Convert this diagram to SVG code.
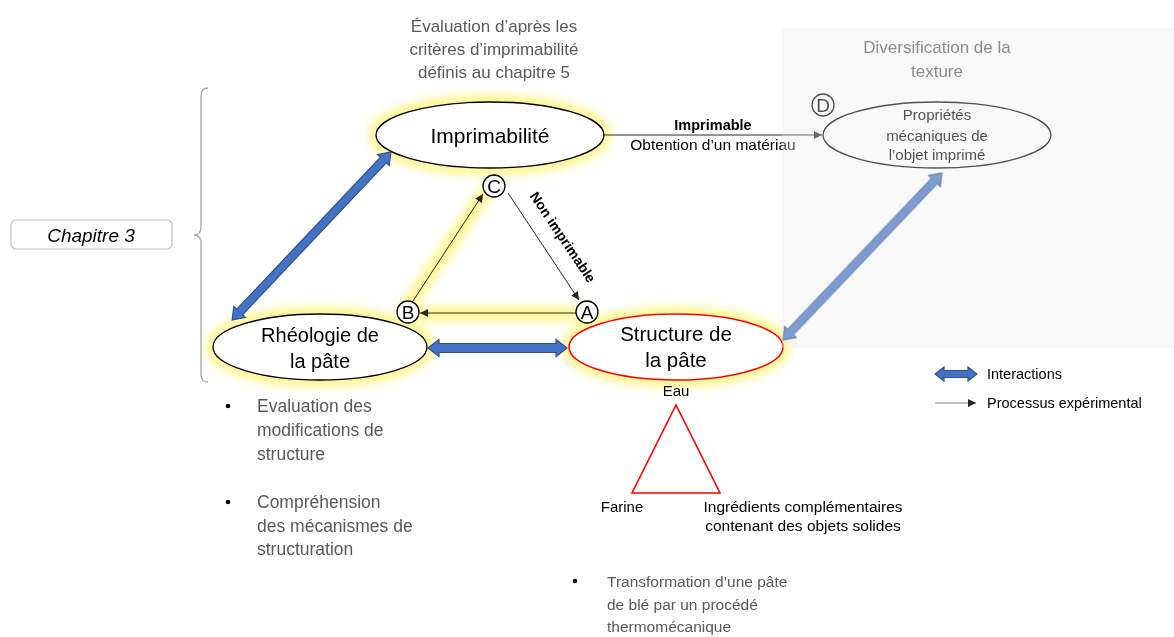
<svg xmlns="http://www.w3.org/2000/svg" width="1174" height="637" viewBox="0 0 1174 637">
<defs>
<filter id="glow" x="-30%" y="-60%" width="160%" height="220%"><feGaussianBlur stdDeviation="4.5"/></filter>
<marker id="ah" viewBox="0 0 10 10" refX="10" refY="5" markerWidth="9" markerHeight="8" markerUnits="userSpaceOnUse" orient="auto"><path d="M0,0 L10,5 L0,10 Z" fill="#262626"/></marker>
<style>
text{font-family:"Liberation Sans",Arial,sans-serif}
.gl{fill:none;stroke:#fff36e;stroke-width:15;opacity:.72}
.el{fill:#fff;stroke:#000;stroke-width:1.3}
.bl{fill:#4472c4;stroke:#2f528f;stroke-width:1.2}
.th{stroke:#262626;stroke-width:1;fill:none}
.lt{fill:#595959}
.cl{fill:#fff;stroke:#000;stroke-width:1.3}
.ct{font-size:19px;text-anchor:middle;fill:#000}
</style>
</defs>
<rect width="1174" height="637" fill="#fff"/>

<!-- glows -->
<g id="glows" filter="url(#glow)">
<ellipse class="gl" cx="490" cy="135" rx="114" ry="33"/>
<ellipse class="gl" cx="320" cy="347" rx="107" ry="33"/>
<ellipse class="gl" cx="676" cy="347" rx="107" ry="33"/>
<path class="gl" d="M404,312 L490,186 M408,314 L587,314" stroke-width="13"/>
</g>

<!-- brace & chapter -->
<g id="chapitre">
<path d="M208,88 Q201,88 201,96 L201,227 Q201,235 194,235 Q201,235 201,243 L201,374 Q201,382 208,382" fill="none" stroke="#a6a6a6" stroke-width="1.3"/>
<rect x="11" y="220" width="161" height="29" rx="5" fill="#fff" stroke="#bfbfbf" stroke-width="1.2"/>
<text x="91" y="242" font-size="19" font-style="italic" text-anchor="middle" fill="#000">Chapitre 3</text>
</g>

<text class="lt" font-size="17" text-anchor="middle"><tspan x="494" y="32">Évaluation d’après les</tspan><tspan x="494" y="55">critères d’imprimabilité</tspan><tspan x="494" y="78">définis au chapitre 5</tspan></text>

<!-- connectors -->
<g id="connectors">
<path class="bl" d="M-115.6,0 L-104.6,-8 L-104.6,-4 L104.6,-4 L104.6,-8 L115.6,0 L104.6,8 L104.6,4 L-104.6,4 L-104.6,8 Z" transform="translate(311.5,236) rotate(133.4)"/>
<path class="bl" d="M-69.5,0 L-58.5,-8.5 L-58.5,-4.5 L58.5,-4.5 L58.5,-8.5 L69.5,0 L58.5,8.5 L58.5,4.5 L-58.5,4.5 L-58.5,8.5 Z" transform="translate(497.5,348)"/>
<path class="bl" d="M-115.3,0 L-104.3,-8 L-104.3,-4 L104.3,-4 L104.3,-8 L115.3,0 L104.3,8 L104.3,4 L-104.3,4 L-104.3,8 Z" transform="translate(862.5,256.5) rotate(133.6)"/>
<line class="th" x1="604" y1="135" x2="822" y2="135" marker-end="url(#ah)"/>
<text x="713" y="130" font-size="14.5" font-weight="bold" text-anchor="middle" fill="#000">Imprimable</text>
<text x="713" y="150" font-size="15.5" text-anchor="middle" fill="#000">Obtention d’un matériau</text>
<line class="th" x1="508" y1="193" x2="579" y2="300" marker-end="url(#ah)"/>
<text transform="translate(563,237) rotate(56)" x="0" y="5" font-size="14" font-weight="bold" text-anchor="middle" fill="#000">Non imprimable</text>
<line class="th" x1="576" y1="313" x2="420" y2="313" marker-end="url(#ah)"/>
<line class="th" x1="413" y1="301" x2="483" y2="194" marker-end="url(#ah)"/>
</g>

<!-- nodes -->
<g id="imprimabilite">
<ellipse class="el" cx="490" cy="135" rx="114" ry="33"/>
<text x="490" y="143" font-size="21" text-anchor="middle" fill="#000">Imprimabilité</text>
</g>
<g id="rheologie">
<ellipse class="el" cx="320" cy="347" rx="107" ry="33"/>
<text font-size="20" text-anchor="middle" fill="#000"><tspan x="320" y="342">Rhéologie de</tspan><tspan x="320" y="368">la pâte</tspan></text>
</g>
<g id="structure">
<ellipse cx="676" cy="347" rx="107" ry="33" fill="#fff" stroke="#ff0000" stroke-width="1.5"/>
<text font-size="20.5" text-anchor="middle" fill="#000"><tspan x="676" y="341">Structure de</tspan><tspan x="676" y="367">la pâte</tspan></text>
</g>
<g id="proprietes">
<ellipse class="el" cx="937" cy="135" rx="114" ry="33"/>
<text font-size="15" text-anchor="middle" fill="#000"><tspan x="937" y="120">Propriétés</tspan><tspan x="937" y="141">mécaniques de</tspan><tspan x="937" y="160">l’objet imprimé</tspan></text>
</g>
<g id="nodeC"><circle class="cl" cx="494" cy="186" r="11"/><text class="ct" x="494" y="193">C</text></g>
<g id="nodeB"><circle class="cl" cx="408" cy="312" r="11"/><text class="ct" x="408" y="319">B</text></g>
<g id="nodeA"><circle class="cl" cx="587" cy="312" r="11"/><text class="ct" x="587" y="319">A</text></g>
<g id="nodeD"><circle class="cl" cx="823" cy="105" r="11"/><text class="ct" x="823" y="112">D</text></g>

<!-- overlay panel -->
<rect id="panel" x="782" y="28" width="392" height="320" fill="#ebebeb" opacity="0.34"/>
<text font-size="17" text-anchor="middle" fill="#8c8c8c"><tspan x="937" y="53">Diversification de la</tspan><tspan x="937" y="77">texture</tspan></text>

<!-- ingredients -->
<g id="ingredients">
<text x="676" y="396" font-size="15" text-anchor="middle" fill="#000">Eau</text>
<polygon points="676,405 632,493 720,493" fill="none" stroke="#ff0000" stroke-width="1.6"/>
<text x="622" y="512" font-size="15" text-anchor="middle" fill="#000">Farine</text>
<text font-size="15.5" text-anchor="middle" fill="#000"><tspan x="803" y="512">Ingrédients complémentaires</tspan><tspan x="803" y="531">contenant des objets solides</tspan></text>
</g>

<!-- bullets -->
<g id="bullets-left">
<circle cx="228" cy="406" r="2.3" fill="#000"/>
<circle cx="228" cy="502" r="2.3" fill="#000"/>
<text font-size="17.5" class="lt"><tspan x="257" y="412">Evaluation des</tspan><tspan x="257" y="436">modifications de</tspan><tspan x="257" y="460">structure</tspan><tspan x="257" y="508">Compréhension</tspan><tspan x="257" y="532">des mécanismes de</tspan><tspan x="257" y="555">structuration</tspan></text>
</g>
<g id="bullets-bottom">
<circle cx="575" cy="581" r="2.3" fill="#000"/>
<text font-size="15.5" class="lt"><tspan x="607" y="587">Transformation d’une pâte</tspan><tspan x="607" y="610">de blé par un procédé</tspan><tspan x="607" y="632">thermomécanique</tspan></text>
</g>

<!-- legend -->
<g id="legend">
<path class="bl" d="M-21,0 L-12,-7 L-12,-3.5 L12,-3.5 L12,-7 L21,0 L12,7 L12,3.5 L-12,3.5 L-12,7 Z" transform="translate(956,374)"/>
<text x="987" y="379" font-size="14.5" fill="#000">Interactions</text>
<line x1="935" y1="403" x2="976" y2="403" stroke="#7f7f7f" stroke-width="1" marker-end="url(#ah)"/>
<text x="987" y="408" font-size="14.5" fill="#000">Processus expérimental</text>
</g>
</svg>
